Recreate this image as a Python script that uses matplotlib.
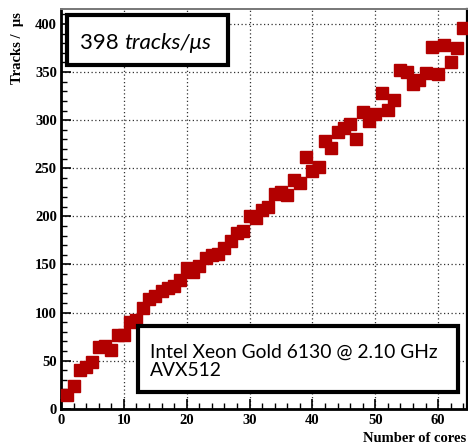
import numpy as np
import matplotlib
matplotlib.use("Agg")
import matplotlib.pyplot as plt
from matplotlib.patches import Rectangle
from matplotlib.ticker import MultipleLocator
from matplotlib.font_manager import FontProperties

# throughput per number of cores
cores = list(range(1, 65))
tracks = [14, 24, 40, 43, 49, 64, 65, 61, 77, 77,
          90, 92, 105, 114, 117, 122, 125, 128, 134, 146,
          142, 148, 157, 160, 161, 167, 174, 183, 185, 200,
          198, 207, 210, 223, 225, 222, 238, 235, 262, 247,
          251, 278, 271, 288, 292, 296, 280, 309, 299, 306,
          328, 311, 321, 352, 350, 338, 342, 349, 376, 348,
          378, 361, 375, 396]
peak_label = "398"
unit_label = "tracks/\u03bcs"
cpu_lines = ["Intel Xeon Gold 6130 @ 2.10 GHz", "AVX512"]

W, H = 468, 446
fig = plt.figure(figsize=(W / 100, H / 100), dpi=100)
ax = fig.add_axes([61 / W, 1 - 408.7 / H, (466.5 - 61) / W, (408.7 - 9) / H])

ax.plot(cores, tracks, ls="none", marker="s", ms=8, mfc="#b20000", mec="#b20000",
        zorder=3, clip_on=False)

ax.set_xlim(0, 64.5)
ax.set_ylim(0, 415.6)
ax.xaxis.set_major_locator(MultipleLocator(10))
ax.xaxis.set_minor_locator(MultipleLocator(2))
ax.yaxis.set_major_locator(MultipleLocator(50))
ax.yaxis.set_minor_locator(MultipleLocator(10))
ax.tick_params(which="both", direction="in", top=False, right=False, colors="black")
ax.tick_params(which="major", length=7, width=1.2)
ax.tick_params(which="minor", length=4, width=1.0)
ax.tick_params(axis="x", pad=4)
ax.tick_params(axis="y", pad=3)
ax.grid(True, which="major", ls=(0, (1, 2)), color="#333333", lw=0.9)

tickfont = FontProperties(family="Liberation Serif", weight="bold", size=10.5)
for lab in ax.get_xticklabels() + ax.get_yticklabels():
    lab.set_fontproperties(tickfont)

ax.spines["left"].set_linewidth(2)
ax.spines["bottom"].set_linewidth(2)
ax.spines["right"].set_linewidth(1.6)
ax.spines["top"].set_linewidth(1.4)
ax.spines["top"].set_color("#777777")

fig.text(466 / W, 1 - 438 / H, "Number of cores", ha="right", va="center",
         family="Liberation Serif", weight="bold", size=10.5)
fig.text(17 / W, 1 - 48 / H, "Tracks /  \u03bcs", ha="center", va="center", rotation=90,
         family="Liberation Serif", weight="bold", size=10.5)

# boxes
def box(x0, y0, x1, y1):
    fig.patches.append(Rectangle((x0 / W, 1 - y1 / H), (x1 - x0) / W, (y1 - y0) / H,
                                 transform=fig.transFigure, fc="white", ec="black",
                                 lw=3, zorder=5))

box(67, 15, 227.5, 65)
t1 = fig.text(80 / W, 1 - 43 / H, peak_label + " ", ha="left", va="center",
              family="Lato", size=16, zorder=6)
fig.canvas.draw()
ext = t1.get_window_extent()
fig.text(ext.x1 / W, 1 - 43 / H, unit_label, ha="left", va="center",
         family="Lato", style="italic", size=16, zorder=6)

box(137.5, 326, 458, 391.5)
fig.text(150 / W, 1 - 352 / H, cpu_lines[0], ha="left", va="center", family="Lato", size=13.9, zorder=6)
fig.text(150 / W, 1 - 371 / H, cpu_lines[1], ha="left", va="center", family="Lato", size=13.9, zorder=6)

fig.savefig("out.png", dpi=100)
